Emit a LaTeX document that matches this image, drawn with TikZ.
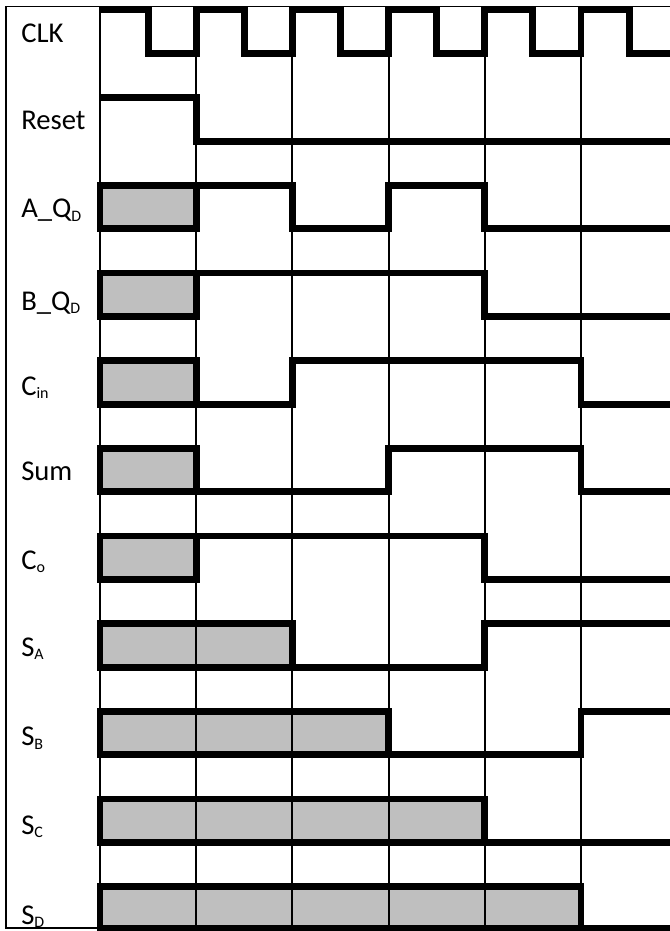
\documentclass[tikz,border=0pt]{standalone}
\usepackage{fontspec}
\setmainfont{Carlito}
\definecolor{unk}{RGB}{191,191,191}
\newcommand\sbs[1]{\raisebox{-0.12em}{\fontsize{12pt}{12pt}\selectfont #1}}
\begin{document}
\begin{tikzpicture}[x=0.75pt,y=-0.75pt,
  wave/.style={line width=5.2pt,line join=miter},
  box/.style={line width=5.2pt,line join=miter,fill=unk},
  grid/.style={line width=1.5pt},
  frame/.style={line width=1.1pt},
  lbl/.style={anchor=base west,inner sep=0pt,font=\fontsize{21.5pt}{26pt}\selectfont}]
\useasboundingbox (0,0) rectangle (670,931);
\clip (0,0) rectangle (670,931);
% gray unknown regions (fill only first)
\fill[unk] (100,185.3) rectangle (196.2,228.8);
\fill[unk] (100,273.0) rectangle (196.2,316.5);
\fill[unk] (100,360.7) rectangle (196.2,404.2);
\fill[unk] (100,448.4) rectangle (196.2,491.9);
\fill[unk] (100,536.0) rectangle (196.2,579.5);
\fill[unk] (100,623.7) rectangle (292.4,667.2);
\fill[unk] (100,711.4) rectangle (388.6,754.9);
\fill[unk] (100,799.0) rectangle (484.8,842.5);
\fill[unk] (100,886.7) rectangle (581,928.5);
% frame
\draw[frame] (675,6.3) -- (6,6.3) -- (6,928) -- (100,928);
% grid
\foreach \gx in {100,196.2,292.4,388.6,484.8,581}
  \draw[grid] (\gx,6.3) -- (\gx,928);
% labels
\node[lbl] (lclk) at (21,42.3) {CLK};
\node[lbl] (lrst) at (21,129.3) {Reset};
\node[lbl] (la) at (21,217.7) {A\_Q\sbs{D}};
\node[lbl] (lb) at (21,310) {B\_Q\sbs{D}};
\node[lbl] (lcin) at (21,395) {C\sbs{in}};
\node[lbl] (lsum) at (21,480) {Sum};
\node[lbl] (lco) at (21,569) {C\sbs{o}};
\node[lbl] (lsa) at (21,656.5) {S\sbs{A}};
\node[lbl] (lsb) at (21,745.7) {S\sbs{B}};
\node[lbl] (lsc) at (21,834) {S\sbs{C}};
\node[lbl] (lsd) at (21,924.5) {S\sbs{D}};
% CLK
\draw[wave] (100,10) -- (148.1,10) -- (148.1,53.5) -- (196.2,53.5) -- (196.2,10)
  -- (244.3,10) -- (244.3,53.5) -- (292.4,53.5) -- (292.4,10)
  -- (340.5,10) -- (340.5,53.5) -- (388.6,53.5) -- (388.6,10)
  -- (436.7,10) -- (436.7,53.5) -- (484.8,53.5) -- (484.8,10)
  -- (532.9,10) -- (532.9,53.5) -- (581,53.5) -- (581,10)
  -- (629.1,10) -- (629.1,53.5) -- (680,53.5);
% Reset
\draw[wave] (100,97.7) -- (196.2,97.7) -- (196.2,141.2) -- (680,141.2);
% A_QD
\draw[box] (100,185.3) rectangle (196.2,228.8);
\draw[wave] (196.2,185.3) -- (292.4,185.3) -- (292.4,228.8) -- (388.6,228.8)
  -- (388.6,185.3) -- (484.8,185.3) -- (484.8,228.8) -- (680,228.8);
% B_QD
\draw[box] (100,273.0) rectangle (196.2,316.5);
\draw[wave] (196.2,273.0) -- (484.8,273.0) -- (484.8,316.5) -- (680,316.5);
% C_in
\draw[box] (100,360.7) rectangle (196.2,404.2);
\draw[wave] (196.2,404.2) -- (292.4,404.2) -- (292.4,360.7) -- (581,360.7)
  -- (581,404.2) -- (680,404.2);
% Sum
\draw[box] (100,448.4) rectangle (196.2,491.9);
\draw[wave] (196.2,491.9) -- (388.6,491.9) -- (388.6,448.4) -- (581,448.4)
  -- (581,491.9) -- (680,491.9);
% C_o
\draw[box] (100,536.0) rectangle (196.2,579.5);
\draw[wave] (196.2,536.0) -- (484.8,536.0) -- (484.8,579.5) -- (680,579.5);
% S_A
\draw[box,fill=none] (100,623.7) rectangle (292.4,667.2);
\draw[wave] (292.4,667.2) -- (484.8,667.2) -- (484.8,623.7) -- (680,623.7);
% S_B
\draw[box,fill=none] (100,711.4) rectangle (388.6,754.9);
\draw[wave] (388.6,754.9) -- (581,754.9) -- (581,711.4) -- (680,711.4);
% S_C
\draw[box,fill=none] (100,799.0) rectangle (484.8,842.5);
\draw[wave] (484.8,842.5) -- (680,842.5);
% S_D
\draw[box,fill=none] (100,886.7) rectangle (581,928.5);
\draw[wave] (581,928.5) -- (680,928.5);
\end{tikzpicture}
\end{document}
